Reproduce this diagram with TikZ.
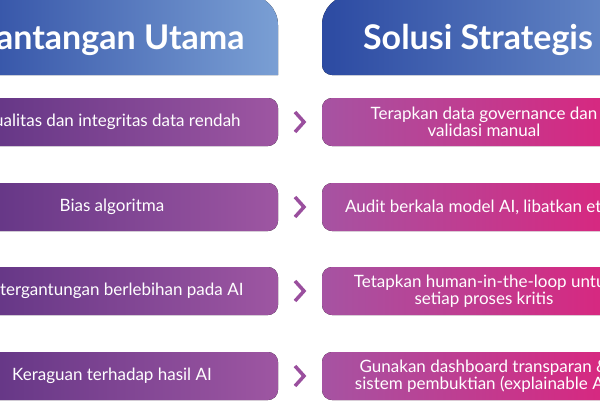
\documentclass[tikz,border=0pt]{standalone}
\usepackage{fontspec}
\setmainfont{Lato}
\definecolor{hdA}{HTML}{2C4AA2}
\definecolor{hdB}{HTML}{7A9FD4}
\definecolor{lbA}{HTML}{5C3282}
\definecolor{lbB}{HTML}{9E56A2}
\definecolor{rbA}{HTML}{A653A2}
\definecolor{rbB}{HTML}{E0207A}
\definecolor{chev}{HTML}{9A4F9E}
\begin{document}
\begin{tikzpicture}[x=1pt,y=-1pt,
  txt/.style={text=white,font=\fontsize{17}{17}\selectfont,align=center,inner sep=0pt},
  hdtxt/.style={text=white,font=\bfseries\fontsize{34}{38}\selectfont,inner sep=0pt},
  lbox/.style={left color=lbA,right color=lbB,draw=none,rounded corners=10pt},
  rbox/.style={left color=rbA,right color=rbB,draw=none,rounded corners=10pt},
  chv/.style={draw=chev,line width=3.5pt,line cap=butt}]
\useasboundingbox (0,0) rectangle (600,400);
\fill[left color=hdA,right color=hdB] (-55,75) -- (-55,-5) [rounded corners=30pt] -- (278,-5) [sharp corners] -- (278,75) -- cycle;
\fill[left color=hdA,right color=hdB!80!hdA] (655,75) -- (655,-5) [rounded corners=30pt] -- (322,-5) [rounded corners=10pt] -- (322,75) [sharp corners] -- cycle;
\node[hdtxt] (h1) at (112,40) {Tantangan Utama};
\node[hdtxt] (h2) at (478,40) {Solusi Strategis};
\foreach \i/\y/\l/\r in {1/122/{Kualitas dan integritas data rendah}/{Terapkan data governance dan\\validasi manual},
  2/207/{Bias algoritma}/{Audit berkala model AI, libatkan etika},
  3/291/{Ketergantungan berlebihan pada AI}/{Tetapkan human-in-the-loop untuk\\setiap proses kritis},
  4/376/{Keraguan terhadap hasil AI}/{Gunakan dashboard transparan \&\\sistem pembuktian (explainable AI)}}{
  \fill[lbox] (-55,\y-24) rectangle (278,\y+24);
  \fill[rbox] (322,\y-24) rectangle (655,\y+24);
  \node[txt] (l\i) at (112,\y) {\l};
  \node[txt] (r\i) at (484,\y) {\r};
  \draw[chv] (295,\y-10) -- (304,\y) -- (295,\y+10);
}
\end{tikzpicture}
\end{document}
